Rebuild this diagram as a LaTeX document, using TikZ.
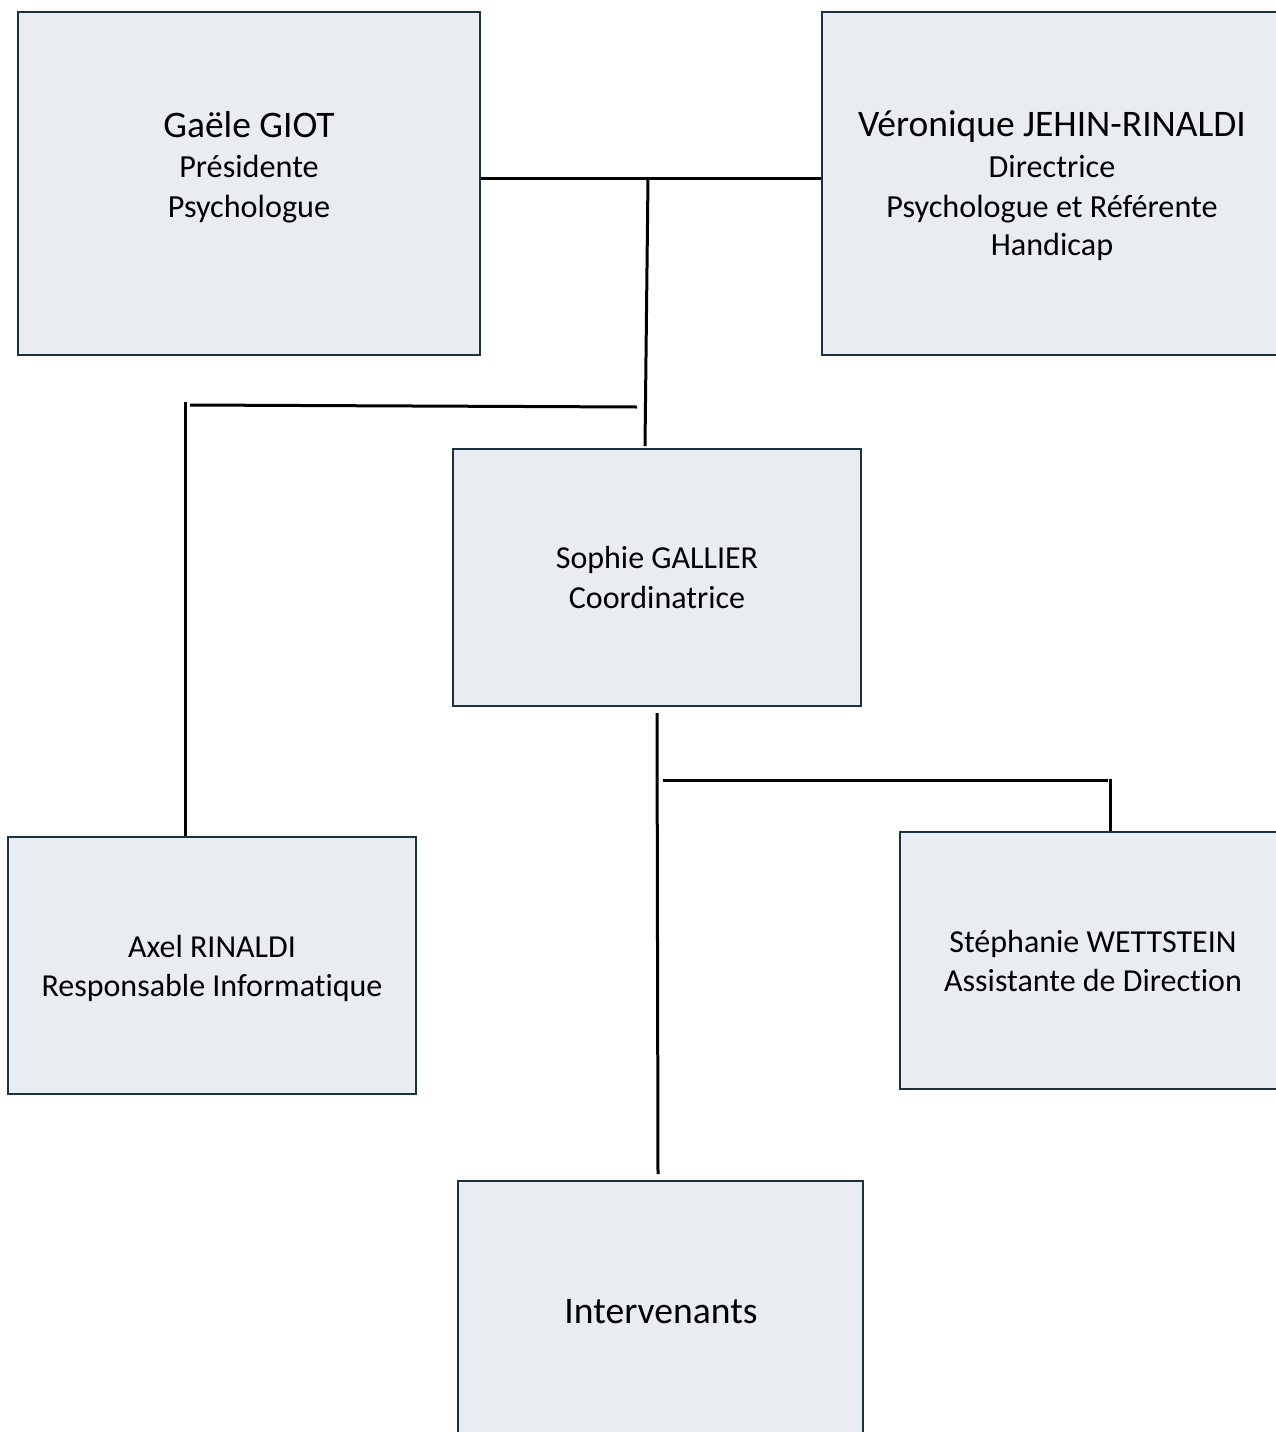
\documentclass[tikz,border=0pt]{standalone}
\usepackage{fontspec}
\setmainfont[Ligatures=NoCommon]{Carlito}
\definecolor{boxfill}{HTML}{E9ECF1}
\definecolor{boxline}{HTML}{1A3242}
\begin{document}
\begin{tikzpicture}[x=1pt,y=-1pt,
  box/.style={draw=boxline, fill=boxfill, line width=2.5pt, inner sep=0pt},
  conn/.style={line width=3pt, black},
  bigname/.style={anchor=base, inner sep=0pt, font=\fontsize{37.5}{42}\selectfont},
  role/.style={anchor=base, inner sep=0pt, font=\fontsize{32.2}{40}\selectfont},
  midtxt/.style={anchor=base, inner sep=0pt, font=\fontsize{32}{38}\selectfont},
  inttxt/.style={anchor=base, inner sep=0pt, font=\fontsize{37.6}{44}\selectfont}]
\useasboundingbox (0,0) rectangle (1276,1432);
\clip (0,0) rectangle (1276,1432);
\fill[white] (0,0) rectangle (1276,1432);

% boxes
\node[box, minimum width=462pt, minimum height=343pt] (gaele) at (249,183.5) {};
\node[box, minimum width=458pt, minimum height=343pt] (vero) at (1051,183.5) {};
\node[box, minimum width=408pt, minimum height=257pt] (sophie) at (657,577.5) {};
\node[box, minimum width=408pt, minimum height=257pt] (axel) at (212,965.5) {};
\node[box, minimum width=386pt, minimum height=257pt] (steph) at (1093,960.5) {};
\node[box, minimum width=405pt, minimum height=257pt] (interv) at (660.5,1309.5) {};

% texts
\node[bigname] (gname) at (249,137) {Gaële GIOT};
\node[role] (grole) at (249,177) {Présidente};
\node[role] (gjob) at (249,217) {Psychologue};

\node[bigname] (vname) at (1052,136) {Véronique JEHIN-RINALDI};
\node[role] (vrole) at (1052,177) {Directrice};
\node[role] (vjob) at (1052,217) {Psychologue et Référente};
\node[role] (vjob2) at (1052,255) {Handicap};

\node[midtxt] (sname) at (657,568) {Sophie GALLIER};
\node[midtxt] (srole) at (657,608) {Coordinatrice};

\node[midtxt] (aname) at (212,957) {Axel RINALDI};
\node[midtxt] (arole) at (212,996) {Responsable Informatique};

\node[midtxt] (stname) at (1093,952) {Stéphanie WETTSTEIN};
\node[midtxt] (strole) at (1093,991) {Assistante de Direction};

\node[inttxt] (itxt) at (661,1323) {Intervenants};

% connectors
\coordinate (j1) at (648,178);
\coordinate (j1b) at (645,446);
\draw[conn] (j1 -| gaele.east) -- (j1 -| vero.west);
\draw[conn] (j1) -- (j1b);

\coordinate (l1) at (637,407);
\coordinate (l2) at (190,405);
\coordinate (l3) at (185,402);
\draw[conn] (l1) -- (l2);
\draw[conn] (l3) -- (l3 |- axel.north);

\coordinate (s1) at (657,713);
\coordinate (s2) at (658,1174);
\draw[conn] (s1) -- (s2);

\coordinate (r1) at (663,780);
\coordinate (r2) at (1108,780);
\coordinate (r3) at (1110,778.5);
\draw[conn] (r1) -- (r2);
\draw[conn] (r3) -- (r3 |- steph.north);
\end{tikzpicture}
\end{document}
